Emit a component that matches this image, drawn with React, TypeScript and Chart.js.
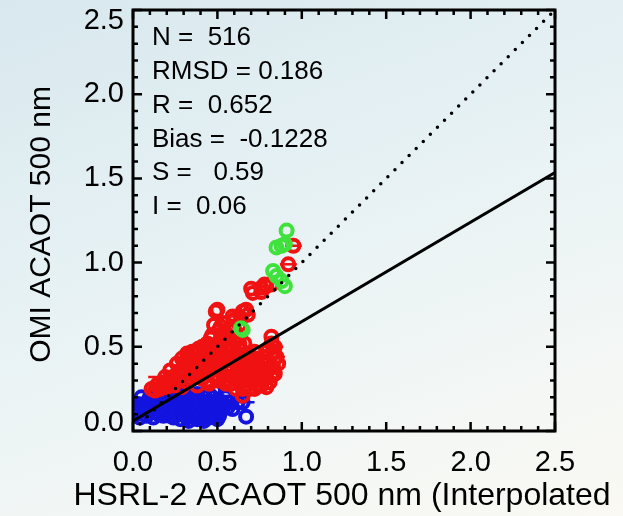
import React, { useEffect, useRef } from "react";
import { Chart, registerables } from "chart.js";

Chart.register(...registerables);

// ---------- data ----------
const axisTicks = [0, 0.5, 1.0, 1.5, 2.0, 2.5];
const xTitle = "HSRL-2 ACAOT 500 nm (Interpolated";
const yTitle = "OMI ACAOT 500 nm";
const statsLines = ["N =  516", "RMSD = 0.186", "R =  0.652", "Bias =  -0.1228", "S =   0.59", "I =  0.06"];
const slope = 0.59;
const intercept = 0.06;
const oneToOne: [number, number][] = [[0, 0], [2.5, 2.5]];

const redPoints: [number, number][] = [
  [0.11, 0.25], [0.13, 0.24], [0.14, 0.27], [0.15, 0.28], [0.16, 0.25], [0.18, 0.29], [0.19, 0.32], [0.2, 0.26],
  [0.21, 0.27], [0.22, 0.3], [0.22, 0.36], [0.24, 0.27], [0.24, 0.31], [0.25, 0.33], [0.26, 0.4], [0.27, 0.3],
  [0.27, 0.34], [0.28, 0.36], [0.29, 0.26], [0.29, 0.43], [0.3, 0.33], [0.3, 0.37], [0.31, 0.4], [0.32, 0.29],
  [0.32, 0.46], [0.33, 0.44], [0.33, 0.39], [0.34, 0.36], [0.35, 0.31], [0.35, 0.47], [0.36, 0.41], [0.36, 0.33],
  [0.37, 0.46], [0.37, 0.38], [0.38, 0.27], [0.38, 0.35], [0.38, 0.48], [0.39, 0.49], [0.39, 0.43], [0.4, 0.4],
  [0.4, 0.34], [0.41, 0.31], [0.41, 0.5], [0.42, 0.45], [0.42, 0.39], [0.43, 0.36], [0.43, 0.48], [0.44, 0.52],
  [0.44, 0.44], [0.44, 0.3], [0.45, 0.28], [0.45, 0.42], [0.46, 0.48], [0.46, 0.36], [0.46, 0.55], [0.47, 0.33],
  [0.47, 0.57], [0.48, 0.38], [0.48, 0.63], [0.48, 0.5], [0.49, 0.71], [0.49, 0.45], [0.49, 0.33], [0.5, 0.52],
  [0.5, 0.3], [0.5, 0.72], [0.5, 0.42], [0.51, 0.6], [0.51, 0.47], [0.51, 0.36], [0.52, 0.4], [0.52, 0.55],
  [0.52, 0.62], [0.53, 0.34], [0.53, 0.47], [0.53, 0.57], [0.54, 0.64], [0.54, 0.44], [0.54, 0.3], [0.55, 0.28],
  [0.55, 0.58], [0.55, 0.5], [0.56, 0.43], [0.56, 0.51], [0.56, 0.35], [0.57, 0.37], [0.57, 0.55], [0.57, 0.44],
  [0.58, 0.62], [0.58, 0.47], [0.58, 0.28], [0.58, 0.39], [0.59, 0.68], [0.59, 0.32], [0.59, 0.5], [0.6, 0.55],
  [0.6, 0.41], [0.6, 0.66], [0.6, 0.6], [0.61, 0.25], [0.61, 0.45], [0.61, 0.33], [0.62, 0.46], [0.62, 0.36],
  [0.62, 0.55], [0.62, 0.4], [0.63, 0.29], [0.63, 0.52], [0.63, 0.63], [0.64, 0.67], [0.64, 0.4], [0.64, 0.48],
  [0.64, 0.33], [0.65, 0.71], [0.65, 0.21], [0.65, 0.25], [0.65, 0.42], [0.66, 0.45], [0.66, 0.34], [0.66, 0.52],
  [0.67, 0.72], [0.67, 0.26], [0.67, 0.38], [0.67, 0.3], [0.68, 0.69], [0.68, 0.39], [0.68, 0.46], [0.69, 0.31],
  [0.69, 0.35], [0.69, 0.25], [0.7, 0.44], [0.7, 0.4], [0.71, 0.36], [0.71, 0.3], [0.72, 0.25], [0.72, 0.41],
  [0.72, 0.47], [0.73, 0.3], [0.73, 0.36], [0.74, 0.38], [0.74, 0.27], [0.74, 0.43], [0.75, 0.34], [0.76, 0.27],
  [0.76, 0.36], [0.77, 0.4], [0.77, 0.31], [0.78, 0.31], [0.78, 0.44], [0.79, 0.26], [0.8, 0.36], [0.8, 0.41],
  [0.8, 0.48], [0.81, 0.29], [0.82, 0.52], [0.82, 0.56], [0.82, 0.33], [0.83, 0.47], [0.83, 0.38], [0.84, 0.5],
  [0.84, 0.43], [0.84, 0.34], [0.85, 0.44], [0.86, 0.4],
  [0.7, 0.845], [0.71, 0.82], [0.76, 0.825], [0.76, 0.85], [0.78, 0.87], [0.79, 0.86], [0.82, 0.87],
  [0.92, 0.99], [0.95, 1.1],
];

const bluePoints: [number, number][] = [
  [0.01, 0.13], [0.02, 0.1], [0.03, 0.16], [0.03, 0.12], [0.04, 0.08], [0.05, 0.2], [0.05, 0.15], [0.06, 0.12],
  [0.07, 0.15], [0.08, 0.09], [0.08, 0.13], [0.09, 0.18], [0.1, 0.12], [0.1, 0.2], [0.11, 0.16], [0.12, 0.08],
  [0.12, 0.14], [0.13, 0.2], [0.14, 0.11], [0.15, 0.17], [0.15, 0.1], [0.16, 0.13], [0.17, 0.21], [0.17, 0.16],
  [0.18, 0.09], [0.19, 0.15], [0.2, 0.19], [0.2, 0.14], [0.21, 0.11], [0.22, 0.22], [0.22, 0.09], [0.23, 0.14],
  [0.24, 0.08], [0.24, 0.2], [0.25, 0.18], [0.25, 0.13], [0.26, 0.12], [0.27, 0.29], [0.27, 0.21], [0.27, 0.1],
  [0.28, 0.07], [0.28, 0.17], [0.29, 0.15], [0.29, 0.23], [0.3, 0.1], [0.3, 0.21], [0.31, 0.19], [0.31, 0.13],
  [0.32, 0.23], [0.32, 0.08], [0.33, 0.06], [0.33, 0.13], [0.34, 0.17], [0.34, 0.11], [0.35, 0.09], [0.35, 0.19],
  [0.36, 0.21], [0.36, 0.14], [0.37, 0.12], [0.37, 0.09], [0.38, 0.07], [0.38, 0.16], [0.38, 0.22], [0.39, 0.19],
  [0.39, 0.12], [0.4, 0.1], [0.4, 0.17], [0.41, 0.14], [0.41, 0.08], [0.42, 0.06], [0.42, 0.22], [0.43, 0.12],
  [0.43, 0.2], [0.44, 0.17], [0.44, 0.1], [0.45, 0.08], [0.45, 0.15], [0.45, 0.22], [0.46, 0.13], [0.46, 0.09],
  [0.47, 0.2], [0.47, 0.13], [0.48, 0.24], [0.48, 0.1], [0.49, 0.15], [0.49, 0.09], [0.5, 0.07], [0.5, 0.12],
  [0.51, 0.18], [0.51, 0.09], [0.52, 0.12], [0.53, 0.17], [0.54, 0.15], [0.55, 0.2], [0.56, 0.14], [0.57, 0.17],
  [0.59, 0.13], [0.62, 0.17], [0.65, 0.17], [0.67, 0.085],
];

const greenPoints: [number, number][] = [
  [0.91, 1.19], [0.88, 1.1], [0.9, 1.11], [0.85, 1.09], [0.83, 0.95], [0.85, 0.92], [0.88, 0.89], [0.9, 0.86],
  [0.64, 0.61], [0.65, 0.6],
];

// [x, y, half-width]
const redErrBars: [number, number, number][] = [
  [0.19, 0.32, 0.1], [0.95, 1.1, 0.05], [0.92, 0.99, 0.05], [0.59, 0.68, 0.07], [0.85, 0.44, 0.05], [0.84, 0.5, 0.05],
];
const blueErrBars: [number, number, number][] = [[0.62, 0.17, 0.1]];

// ---------- styling ----------
const FONT = "'Liberation Sans', Arial, Helvetica, sans-serif";
const RED = "#f01212";
const BLUE = "#1414e0";
const GREEN = "#3fe23c";

const toXY = (arr: [number, number][]) => arr.map(([x, y]) => ({ x, y }));

const framePlugin = {
  id: "idlFrame",
  beforeDatasetsDraw(chart: any) {
    const { ctx, scales } = chart;
    const x = scales.x;
    const y = scales.y;
    ctx.save();
    ctx.lineWidth = 2.5;
    const drawBars = (bars: [number, number, number][], color: string) => {
      ctx.strokeStyle = color;
      for (const [bx, by, h] of bars) {
        const py = y.getPixelForValue(by);
        ctx.beginPath();
        ctx.moveTo(x.getPixelForValue(bx - h), py);
        ctx.lineTo(x.getPixelForValue(bx + h), py);
        ctx.stroke();
      }
    };
    drawBars(redErrBars, RED);
    drawBars(blueErrBars, BLUE);
    ctx.restore();
  },
  afterDatasetsDraw(chart: any) {
    const { ctx, chartArea, scales } = chart;
    const { left, right, top, bottom } = chartArea;
    const x = scales.x;
    const y = scales.y;
    ctx.save();
    ctx.strokeStyle = "#000";
    ctx.lineWidth = 2.5;
    ctx.lineCap = "butt";
    for (let i = 0; i <= 25; i++) {
      const v = i / 10;
      const len = i % 5 === 0 ? 9 : 5;
      const px = x.getPixelForValue(v);
      const py = y.getPixelForValue(v);
      ctx.beginPath();
      ctx.moveTo(px, bottom);
      ctx.lineTo(px, bottom - len);
      ctx.moveTo(px, top);
      ctx.lineTo(px, top + len);
      ctx.moveTo(left, py);
      ctx.lineTo(left + len, py);
      ctx.moveTo(right, py);
      ctx.lineTo(right - len, py);
      ctx.stroke();
    }
    ctx.lineWidth = 3;
    ctx.strokeRect(left, top, right - left, bottom - top);

    ctx.fillStyle = "#000";
    // y tick labels
    ctx.font = `29px ${FONT}`;
    ctx.textAlign = "right";
    ctx.textBaseline = "middle";
    for (const v of axisTicks) {
      let py = y.getPixelForValue(v);
      py = Math.min(Math.max(py, top + 11), bottom - 8);
      ctx.fillText(v.toFixed(1), left - 9, py);
    }

    // axis titles
    ctx.font = `32px ${FONT}`;
    ctx.textAlign = "center";
    ctx.fillText(xTitle, (left + right) / 2 - 2, 496);
    ctx.save();
    ctx.font = `30px ${FONT}`;
    ctx.translate(42, (top + bottom) / 2 + 4);
    ctx.rotate(-Math.PI / 2);
    ctx.fillText(yTitle, 0, 0);
    ctx.restore();

    // statistics
    ctx.font = `26px ${FONT}`;
    ctx.textAlign = "left";
    statsLines.forEach((s, i) => {
      ctx.fillText(s, left + 19, top + 28 + i * 33.8);
    });
    ctx.restore();
  },
};

export default function App() {
  const canvasRef = useRef<HTMLCanvasElement | null>(null);

  useEffect(() => {
    const canvas = canvasRef.current;
    if (!canvas) return;
    const scatterDs = (pts: [number, number][], color: string, order: number) => ({
      type: "scatter" as const,
      data: toXY(pts),
      borderColor: color,
      backgroundColor: "rgba(0,0,0,0)",
      pointRadius: 6,
      pointBorderWidth: 4,
      pointHoverRadius: 6,
      showLine: false,
      order,
    });
    const chart = new Chart(canvas, {
      type: "scatter",
      data: {
        datasets: [
          {
            type: "line",
            data: [
              { x: 0, y: intercept },
              { x: 2.5, y: slope * 2.5 + intercept },
            ],
            borderColor: "#000",
            borderWidth: 3,
            pointRadius: 0,
            order: 0,
          } as any,
          {
            type: "line",
            data: toXY(oneToOne),
            borderColor: "#000",
            borderWidth: 3.5,
            borderDash: [0, 10],
            borderCapStyle: "round",
            pointRadius: 0,
            order: 1,
          } as any,
          scatterDs(bluePoints, BLUE, 4),
          scatterDs(redPoints, RED, 3),
          scatterDs(greenPoints, GREEN, 2),
        ],
      },
      options: {
        responsive: false,
        animation: false,
        events: [],
        layout: { padding: { top: 5, right: 68, left: 0, bottom: 0 } },
        plugins: { legend: { display: false }, tooltip: { enabled: false } },
        scales: {
          x: {
            type: "linear",
            min: 0,
            max: 2.5,
            grid: { display: false, drawTicks: false },
            border: { display: false },
            ticks: {
              stepSize: 0.5,
              autoSkip: false,
              maxRotation: 0,
              padding: 15,
              color: "#000",
              font: { family: FONT, size: 29 },
              callback: (v: any) => Number(v).toFixed(1),
            },
            afterFit: (s: any) => {
              s.height = 85;
            },
          },
          y: {
            type: "linear",
            min: 0,
            max: 2.5,
            grid: { display: false, drawTicks: false },
            border: { display: false },
            ticks: { display: false, stepSize: 0.5 },
            afterFit: (s: any) => {
              s.width = 133;
            },
          },
        },
      },
      plugins: [framePlugin],
    } as any);
    return () => chart.destroy();
  }, []);

  return (
    <div
      style={{
        position: "fixed",
        left: 0,
        top: 0,
        width: 623,
        height: 516,
        background: "linear-gradient(160deg, #d8e8ee 0%, #e6f1f4 40%, #f1f6f5 70%, #faf9f3 100%)",
      }}
    >
      <canvas ref={canvasRef} width={623} height={516} style={{ display: "block", width: 623, height: 516 }} />
    </div>
  );
}
